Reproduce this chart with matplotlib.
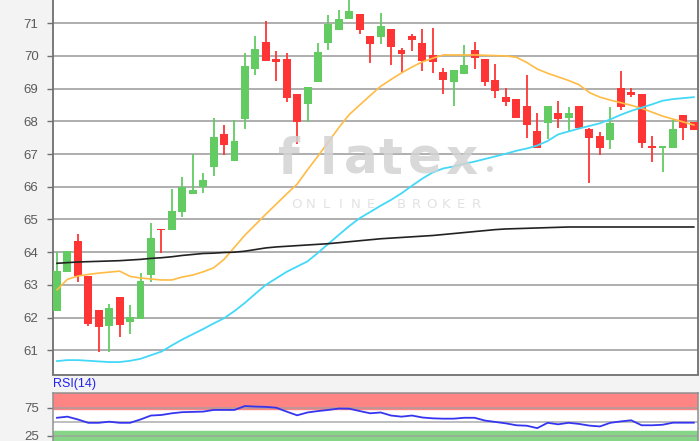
import numpy as np
import matplotlib.pyplot as plt

# candle data (open, high, low, close)
opens = [62.2, 63.4, 64.35, 63.28, 62.23, 61.74, 62.63, 61.86, 61.95, 63.29,
         64.7, 64.67, 65.23, 65.77, 66.0, 66.6, 67.62, 66.8, 68.07, 69.59,
         70.42, 69.9, 69.9, 68.83, 68.52, 69.21, 70.39, 70.8, 71.13, 71.28,
         70.61, 70.59, 70.82, 70.18, 70.61, 70.39, 70.03, 69.52, 69.21, 69.45,
         70.18, 69.9, 69.26, 68.75, 68.67, 68.47, 67.71, 67.94, 68.26, 68.09,
         68.47, 67.76, 67.55, 67.43, 69.01, 68.91, 68.83, 67.24, 67.19, 67.19,
         68.19, 67.99]
highs = [64.0, 64.05, 64.55, 63.28, 62.23, 62.43, 62.64, 62.4, 63.35, 64.9,
         64.72, 65.93, 66.3, 67.0, 66.43, 68.09, 67.9, 68.05, 70.1, 70.61,
         71.08, 70.16, 70.1, 68.83, 69.06, 70.39, 71.25, 71.4, 71.8, 71.28,
         70.61, 71.32, 70.82, 70.25, 70.66, 70.82, 70.85, 69.64, 69.57, 70.34,
         70.42, 69.9, 69.75, 69.01, 68.67, 69.42, 68.26, 68.47, 68.63, 68.43,
         68.47, 67.8, 67.68, 68.43, 69.55, 69.01, 68.83, 67.55, 67.24, 68.04,
         68.19, 67.99]
lows = [62.2, 63.4, 63.1, 61.75, 60.95, 60.95, 61.4, 61.5, 61.95, 63.1,
        63.96, 64.67, 65.08, 65.77, 65.81, 66.33, 66.96, 66.8, 67.76, 69.42,
        69.83, 69.23, 68.6, 67.3, 67.99, 69.21, 70.18, 70.8, 71.13, 70.66,
        69.79, 70.36, 69.72, 69.52, 70.15, 69.54, 69.49, 68.84, 68.48, 69.45,
        69.59, 69.08, 68.7, 68.48, 68.09, 67.5, 67.17, 67.45, 67.8, 67.68,
        67.8, 66.1, 66.97, 67.15, 68.35, 68.73, 67.17, 66.76, 66.46, 67.19,
        67.43, 67.73]
closes = [63.43, 64.05, 63.27, 61.8, 61.7, 62.28, 61.77, 62.03, 63.12, 64.42,
          64.67, 65.25, 66.0, 65.89, 66.2, 67.52, 67.28, 67.4, 69.7, 70.21,
          69.83, 69.8, 68.7, 67.97, 69.06, 70.13, 70.97, 71.12, 71.36, 70.8,
          70.36, 70.93, 70.28, 70.05, 70.49, 69.83, 69.81, 69.26, 69.57, 69.72,
          69.95, 69.19, 68.93, 68.6, 68.09, 67.89, 67.17, 68.47, 68.06, 68.26,
          67.8, 67.5, 67.17, 67.96, 68.45, 68.81, 67.33, 67.19, 67.24, 67.76,
          67.79, 67.73]

# moving averages
ma_short = [62.85, 63.17, 63.27, 63.32, 63.36, 63.39, 63.42, 63.26, 63.21, 63.18,
            63.15, 63.15, 63.24, 63.3, 63.40, 63.52, 63.78, 64.15, 64.52, 64.84,
            65.16, 65.47, 65.78, 66.08, 66.52, 66.94, 67.37, 67.81, 68.21, 68.5,
            68.79, 69.07, 69.28, 69.48, 69.66, 69.82, 69.93, 70.03, 70.03, 70.03,
            70.03, 70.02, 70.01, 70.0, 69.96, 69.8, 69.6, 69.47, 69.36, 69.25,
            69.12, 68.88, 68.74, 68.65, 68.57, 68.49, 68.4, 68.28, 68.16, 68.07,
            67.98, 67.89]
ma_mid = [60.67, 60.70, 60.70, 60.68, 60.66, 60.64, 60.64, 60.68, 60.74, 60.85,
          60.96, 61.15, 61.33, 61.49, 61.65, 61.82, 61.98, 62.2, 62.45, 62.73,
          63.0, 63.2, 63.4, 63.56, 63.72, 63.98, 64.26, 64.53, 64.8, 65.04,
          65.23, 65.42, 65.6, 65.8, 66.03, 66.25, 66.44, 66.56, 66.62, 66.7,
          66.77, 66.85, 66.93, 67.01, 67.1, 67.17, 67.26, 67.4, 67.6, 67.69,
          67.78, 67.86, 67.94, 68.06, 68.2, 68.32, 68.42, 68.52, 68.63, 68.68,
          68.71, 68.74]
ma_long = [63.66, 63.68, 63.7, 63.71, 63.72, 63.73, 63.74, 63.76, 63.78, 63.81,
           63.83, 63.86, 63.9, 63.93, 63.96, 63.97, 63.99, 64.0, 64.03, 64.08,
           64.13, 64.16, 64.18, 64.2, 64.22, 64.24, 64.26, 64.29, 64.32, 64.35,
           64.38, 64.41, 64.43, 64.45, 64.47, 64.49, 64.51, 64.54, 64.57, 64.6,
           64.63, 64.66, 64.69, 64.71, 64.72, 64.73, 64.74, 64.75, 64.76, 64.77,
           64.77, 64.77, 64.77, 64.77, 64.77, 64.77, 64.77, 64.77, 64.77, 64.77,
           64.77, 64.77]

rsi = [57, 59, 54, 48, 48, 50, 48, 48, 54, 61,
       62, 65, 67, 67.5, 68, 71, 71, 71, 78, 77,
       76.5, 75, 68, 61.4, 66.5, 69, 71, 73.5, 73.2, 69,
       65, 66.5, 61, 59, 61, 57.5, 56, 55.4, 55.4, 57,
       57, 52, 49.5, 47, 43.6, 42.8, 38.5, 48, 45.3, 48,
       46, 43, 41.5, 48, 50.5, 52.5, 43.6, 43.6, 44.5, 48.2,
       48.2, 48.2]

price_ticks = [61, 62, 63, 64, 65, 66, 67, 68, 69, 70, 71]
rsi_ticks = [25, 75]

W, H = 700, 441
fig = plt.figure(figsize=(7, 4.41), dpi=100)
fig.patch.set_facecolor('#f3f3f3')
plt.rcParams['font.family'] = ['Liberation Sans', 'DejaVu Sans']

x = np.arange(len(opens))
o = np.array(opens); c = np.array(closes)
up = c >= o
col = np.where(up, '#62cc62', '#ff3535')

# main price panel
ax = fig.add_axes([52.5 / W, (H - 374.5) / H, (698 - 52.5) / W, 374.5 / H])
ax.set_facecolor('white')
ax.set_xlim(-0.43, 61.4)
ax.set_ylim(60.26, 71.71)
ax.set_yticks(price_ticks)
ax.grid(axis='y', color='#a8a8a8', linewidth=1.3)
ax.set_axisbelow(True)
ax.set_xticks([])

ax.vlines(x, lows, highs, colors=col, linewidth=1.3, zorder=3)
body = np.maximum(np.abs(c - o), 0.05)
ax.bar(x, body, bottom=np.minimum(o, c), width=0.76, color=col, zorder=4)

ax.plot(x, ma_short, color='#ffbb44', linewidth=1.2, zorder=5)
ax.plot(x, ma_mid, color='#44d8f8', linewidth=1.3, zorder=5)
ax.plot(x, ma_long, color='#222222', linewidth=1.2, zorder=5)

for s in ['left', 'bottom', 'right']:
    ax.spines[s].set_color('#707070')
    ax.spines[s].set_linewidth(1.3)
ax.spines['top'].set_visible(False)
ax.tick_params(axis='y', length=4, width=1, color='#707070', labelsize=9.5,
               labelcolor='#5a5a5a', pad=6)

# watermark
wm = dict(color='#d3d3d3', fontsize=36, fontweight='bold', ha='center',
          va='baseline', zorder=1, alpha=0.85)
for ch, px in zip('flatex', [289, 328, 361, 390, 425, 461]):
    fig.text(px / W, 1 - 174 / H, ch, family='DejaVu Sans', **wm)
fig.text(489 / W, 1 - 176 / H, '•', color='#d3d3d3', fontsize=16, ha='center',
         va='baseline', alpha=0.85)
for i, ch in enumerate('ONLINE BROKER'):
    fig.text((296 + 15 * i) / W, 1 - 205 / H, ch, color='#e2e2e2', fontsize=9.5,
             ha='center', va='center', family='DejaVu Sans')

# RSI panel
fig.text(53 / W, 1 - 384 / H, 'RSI(14)', color='#2222ee', fontsize=9,
         ha='left', va='center')
ar = fig.add_axes([52.5 / W, 0, (698 - 52.5) / W, (H - 392.7) / H])
ar.set_facecolor('white')
ar.set_xlim(-0.43, 61.4)
ar.set_ylim(15.5, 101.8)
ar.axhspan(72, 101.8, color='#ff8585', zorder=0)
ar.axhspan(0, 32.5, color='#86d486', zorder=0)
ar.set_yticks(rsi_ticks)
ar.grid(axis='y', color='#a0a0a0', linewidth=1.2, alpha=0.8)
ar.axhline(50, color='#a0a0a0', linewidth=1.2, alpha=0.8, zorder=1)
ar.set_axisbelow(True)
ar.set_xticks([])
ar.plot(x, rsi, color='#3535f0', linewidth=1.3, zorder=3)
for s in ['left', 'right', 'top']:
    ar.spines[s].set_color('#909090')
    ar.spines[s].set_linewidth(1.1)
ar.spines['bottom'].set_visible(False)
ar.tick_params(axis='y', length=4, width=1, color='#707070', labelsize=9.5,
               labelcolor='#5a5a5a', pad=6)

fig.savefig('out.png', dpi=100, facecolor=fig.get_facecolor())
